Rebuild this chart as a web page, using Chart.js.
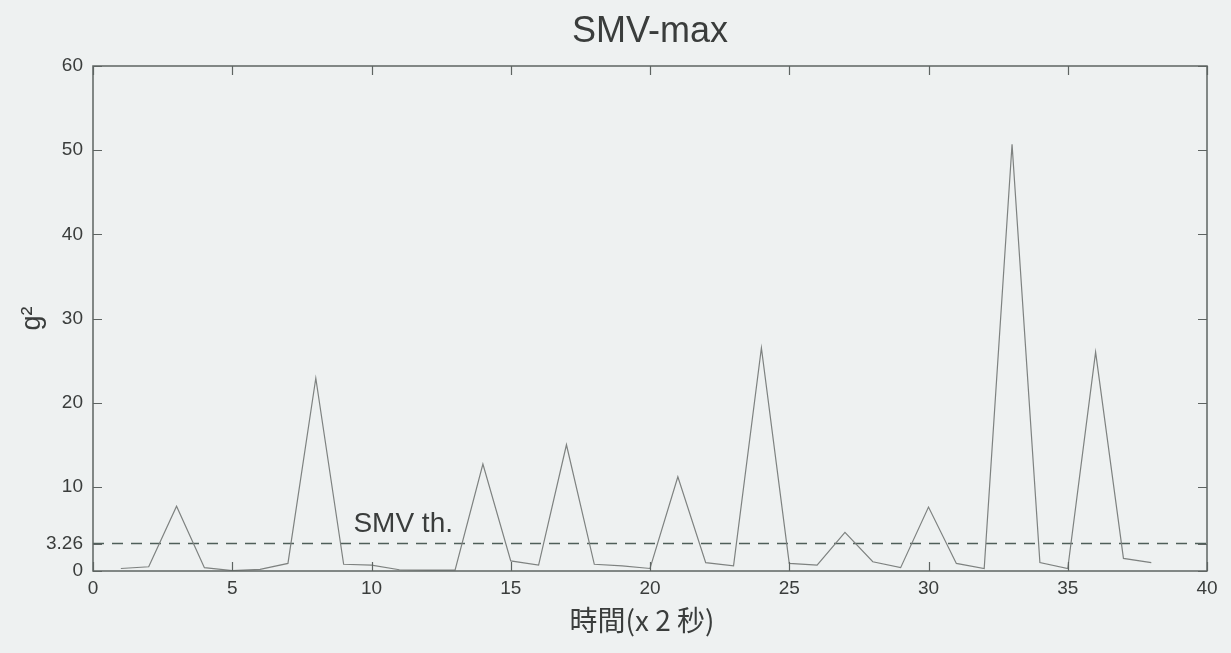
<!DOCTYPE html>
<html>
<head>
<meta charset="utf-8">
<script src="https://cdn.jsdelivr.net/npm/chart.js@4"></script>
<style>
  html, body { margin: 0; padding: 0; background: #eef1f1; }
  #wrap { width: 1231px; height: 653px; }
</style>
</head>
<body>
<div id="wrap"><canvas id="c" width="1231" height="653"></canvas></div>
<script>
// Sample index (one sample every 2 s) and the per-window SMV maximum in g^2
const timeSteps = [1, 2, 3, 4, 5, 6, 7, 8, 9, 10, 11, 12, 13, 14, 15, 16, 17, 18, 19,
                   20, 21, 22, 23, 24, 25, 26, 27, 28, 29, 30, 31, 32, 33, 34, 35, 36, 37, 38];
const smvMax = [0.3, 0.5, 7.7, 0.4, 0.05, 0.2, 0.9, 22.9, 0.8, 0.7, 0.15, 0.1, 0.1, 12.7, 1.2, 0.7, 15.0, 0.8, 0.6,
                0.3, 11.2, 1.0, 0.6, 26.5, 0.9, 0.7, 4.6, 1.1, 0.4, 7.6, 0.9, 0.3, 50.7, 1.0, 0.3, 26.0, 1.5, 1.0];
// Fall-detection threshold
const threshold = 3.26;
const thresholdSpan = [0, 40];
// Tick labels
const xTicks = [0, 5, 10, 15, 20, 25, 30, 35, 40];
const yTicks = [0, 3.26, 10, 20, 30, 40, 50, 60];

const TEXT = '#3a3d3c';
const AXIS = '#5e6462';
const FONT = '"Liberation Sans", Arial, sans-serif';

const seriesPoints = timeSteps.map((t, i) => ({ x: t, y: smvMax[i] }));
const thresholdPoints = thresholdSpan.map(t => ({ x: t, y: threshold }));

// Frame, inward tick marks and free text (title, axis titles, threshold note)
const decorations = {
  id: 'decorations',
  afterDraw(chart) {
    const { ctx, chartArea: a, scales: { x, y } } = chart;
    ctx.save();
    ctx.strokeStyle = AXIS;
    ctx.lineWidth = 1.5;
    ctx.strokeRect(a.left, a.top, a.right - a.left, a.bottom - a.top);
    ctx.lineWidth = 1.2;
    const len = 9;
    ctx.beginPath();
    xTicks.forEach(v => {
      const px = Math.round(x.getPixelForValue(v)) + 0.5;
      ctx.moveTo(px, a.bottom); ctx.lineTo(px, a.bottom - len);
      ctx.moveTo(px, a.top); ctx.lineTo(px, a.top + len);
    });
    yTicks.forEach(v => {
      const py = Math.round(y.getPixelForValue(v)) + 0.5;
      ctx.moveTo(a.left, py); ctx.lineTo(a.left + len, py);
      ctx.moveTo(a.right, py); ctx.lineTo(a.right - len, py);
    });
    ctx.stroke();

    ctx.fillStyle = TEXT;
    ctx.textAlign = 'center';
    ctx.textBaseline = 'middle';
    ctx.font = '36px ' + FONT;
    ctx.fillText('SMV-max', (a.left + a.right) / 2, 32);

    ctx.font = '28px "Noto Sans CJK TC", "Noto Sans CJK SC", ' + FONT;
    ctx.fillText('時間(x 2 秒)', 642, 620);

    ctx.save();
    ctx.translate(33, (a.top + a.bottom) / 2);
    ctx.rotate(-Math.PI / 2);
    ctx.font = '27px ' + FONT;
    ctx.fillText('g²', 0, 0);
    ctx.restore();

    ctx.textAlign = 'left';
    ctx.font = '28px ' + FONT;
    ctx.fillText('SMV th.', x.getPixelForValue(9.35), y.getPixelForValue(3.26) - 19);
    ctx.restore();
  }
};

new Chart(document.getElementById('c'), {
  type: 'line',
  data: {
    datasets: [
      {
        label: 'SMV-max',
        data: seriesPoints,
        borderColor: '#7e8280',
        borderWidth: 1.2,
        pointRadius: 0,
        tension: 0,
        fill: false
      },
      {
        label: 'SMV th.',
        data: thresholdPoints,
        borderColor: '#4f5f5a',
        borderWidth: 1.5,
        borderDash: [11, 8],
        pointRadius: 0,
        fill: false
      }
    ]
  },
  options: {
    responsive: false,
    animation: false,
    devicePixelRatio: 1,
    layout: { padding: { left: 0, right: 24, top: 66, bottom: 0 } },
    plugins: {
      legend: { display: false },
      tooltip: { enabled: false },
      title: { display: false }
    },
    scales: {
      x: {
        type: 'linear',
        min: 0,
        max: 40,
        afterBuildTicks: s => { s.ticks = xTicks.map(v => ({ value: v })); },
        afterFit: s => { s.height = 82; },
        grid: { display: false, drawTicks: false },
        border: { display: false },
        ticks: { color: TEXT, font: { size: 19, family: FONT }, padding: 6, maxRotation: 0 }
      },
      y: {
        type: 'linear',
        min: 0,
        max: 60,
        afterBuildTicks: s => { s.ticks = yTicks.map(v => ({ value: v })); },
        afterFit: s => { s.width = 93; },
        grid: { display: false, drawTicks: false },
        border: { display: false },
        ticks: {
          color: TEXT,
          font: { size: 19, family: FONT },
          padding: 10,
          callback: v => String(v)
        }
      }
    }
  },
  plugins: [decorations]
});
</script>
</body>
</html>
